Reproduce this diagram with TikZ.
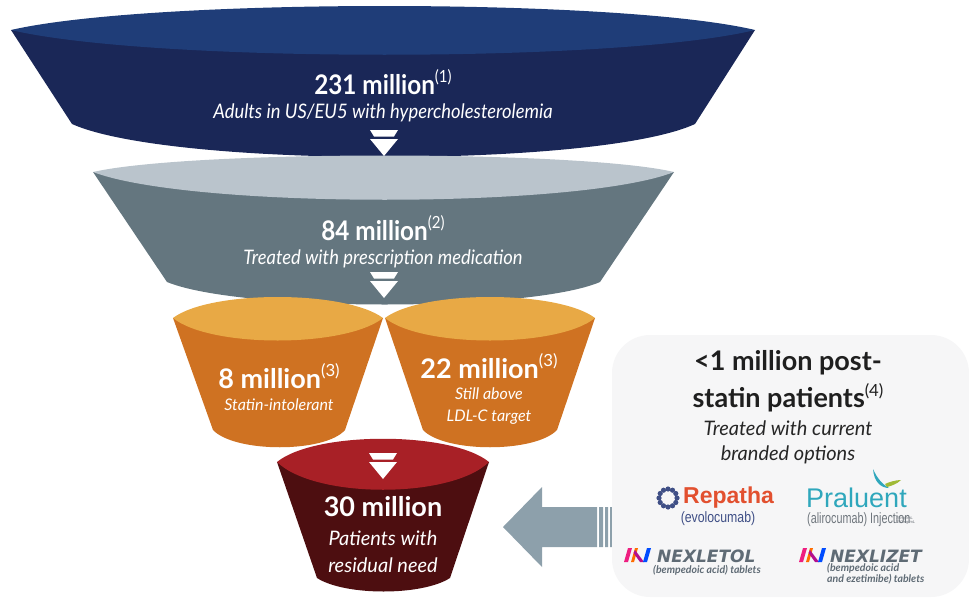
\documentclass[tikz,border=0pt]{standalone}
\usepackage{fontspec}
\setmainfont{Lato}
\newfontfamily\logosans{Liberation Sans}
\newfontfamily\logowide{DejaVu Sans}
\definecolor{navyrim}{HTML}{1F3D78}
\definecolor{navybody}{HTML}{1A2757}
\definecolor{greyrim}{HTML}{BAC4CC}
\definecolor{greybody}{HTML}{64767F}
\definecolor{orangerim}{HTML}{E8A945}
\definecolor{orangebody}{HTML}{CF7222}
\definecolor{redrim}{HTML}{A82026}
\definecolor{redbody}{HTML}{4D0E10}
\definecolor{arrowgrey}{HTML}{8DA0AB}
\definecolor{boxfill}{HTML}{F6F6F7}
\definecolor{repred}{HTML}{E2502F}
\definecolor{repblue}{HTML}{3F4F86}
\definecolor{praluentteal}{HTML}{2FA7BC}
\definecolor{logogrey}{HTML}{6F767D}
\definecolor{nexgrey}{HTML}{5F6B75}
\newcommand{\supref}[1]{\raisebox{.42em}{\fontsize{.62em}{.62em}\selectfont\normalfont #1}}
\newcommand{\fsz}[1]{\fontsize{#1}{#1}\selectfont}
\tikzset{
  x=1pt,y=-1pt,
  headtxt/.style={text=white,font=\fsz{27}\bfseries,inner sep=0pt,transform shape},
  subtxt/.style={text=white,font=\fsz{20}\itshape,inner sep=0pt,align=center,transform shape},
  downarrow/.style={fill=white},
}
\newcommand{\dblarrow}[2]{%
  \fill[downarrow] (#1-14,#2) -- (#1+14,#2) -- (#1+10,#2+6.5) -- (#1-10,#2+6.5) -- cycle;
  \fill[downarrow] (#1-14,#2+9) -- (#1+14,#2+9) -- (#1,#2+26) -- cycle;
}
\newcommand{\nexicon}[2]{%
  \fill[magenta!80!orange] (#1,#2+15) -- (#1+4,#2+1) -- (#1+8,#2+1) -- (#1+4,#2+15) -- cycle;
  \fill[orange!85!red] (#1+7,#2+15) -- (#1+11,#2+1) -- (#1+14,#2+1) -- (#1+10,#2+15) -- cycle;
  \fill[magenta!70!blue] (#1+11,#2+3) -- (#1+20,#2+15) -- (#1+16,#2+15) -- (#1+9.5,#2+6) -- cycle;
  \fill[blue!70!cyan] (#1+19,#2+15) -- (#1+23,#2+1) -- (#1+27,#2+1) -- (#1+23,#2+15) -- cycle;
}
\begin{document}
\begin{tikzpicture}
\useasboundingbox (0,0) rectangle (969,597);
% funnel 1
\fill[navybody] (11,30) -- (72,124) .. controls (170,168) and (600,168) .. (695,124) -- (755,30) -- cycle;
\fill[navyrim] (11,30) .. controls (150,-2) and (620,-2) .. (755,30) .. controls (620,63) and (150,63) .. cycle;
% funnel 2
\fill[greybody] (93,172) -- (167,282) .. controls (240,312) and (530,312) .. (600,282) -- (674,172) -- cycle;
\fill[greyrim] (93,172) .. controls (190,150) and (580,150) .. (674,172) .. controls (580,209) and (190,209) .. cycle;
% orange
\fill[orangebody] (173,318) -- (213,430) .. controls (235,453) and (325,453) .. (345,430) -- (383,318) -- cycle;
\fill[orangerim] (173,318) .. controls (210,290) and (345,290) .. (383,318) .. controls (345,348) and (210,348) .. cycle;
\fill[orangebody] (385,318) -- (423,430) .. controls (445,453) and (535,453) .. (557,430) -- (595,318) -- cycle;
\fill[orangerim] (385,318) .. controls (422,290) and (558,290) .. (595,318) .. controls (558,348) and (422,348) .. cycle;
% red
\fill[redbody] (277,462) -- (317,578) .. controls (345,596) and (422,596) .. (450,578) -- (489,462) -- cycle;
\fill[redrim] (277,462) .. controls (315,431) and (451,431) .. (489,462) .. controls (451,499) and (315,499) .. cycle;
% small arrows
\dblarrow{384}{130}
\dblarrow{384}{272}
\dblarrow{383}{453}
% side arrow
\fill[arrowgrey] (503,527) -- (542,487) -- (542,507) -- (597,507) -- (597,547) -- (542,547) -- (542,567) -- cycle;
\fill[arrowgrey] (599,507) rectangle (603,547) (605,507) rectangle (608,547) (610,507) rectangle (612,547);
% panel
\fill[boxfill,rounded corners=38pt] (612,335) rectangle (969,597);
% funnel labels
\node[headtxt,xscale=.9] (t1) at (383,82) {231 million\supref{(1)}};
\node[subtxt,xscale=.92] (s1) at (383,113) {Adults in US/EU5 with hypercholesterolemia};
\node[headtxt,xscale=.9] (t2) at (383,228) {84 million\supref{(2)}};
\node[subtxt,xscale=.92] (s2) at (383,259) {Treated with prescription medication};
\node[headtxt] (t3) at (279,376) {8 million\supref{(3)}};
\node[subtxt,font=\fsz{16}\itshape] (s3) at (279,405) {Statin-intolerant};
\node[headtxt] (t4) at (489,366) {22 million\supref{(3)}};
\node[subtxt,font=\fsz{16}\itshape] (s4) at (489,394) {Still above};
\node[subtxt,font=\fsz{16}\itshape] (s5) at (489,417) {LDL-C target};
\node[headtxt] (t5) at (383,507) {30 million};
\node[subtxt] (s6) at (383,538) {Patients with};
\node[subtxt] (s7) at (383,565) {residual need};
% panel text
\node[inner sep=0pt,font=\fsz{27}\bfseries,text=black!88] (p1) at (788,363) {<1 million post-};
\node[inner sep=0pt,font=\fsz{27}\bfseries,text=black!88] (p2) at (788,398) {statin patients\supref{(4)}};
\node[inner sep=0pt,font=\fsz{20}\itshape,text=black!85] (p3) at (788,428) {Treated with current};
\node[inner sep=0pt,font=\fsz{20}\itshape,text=black!85] (p4) at (788,455) {branded options};
% Repatha logo
\foreach \a in {0,30,...,330}{\fill[repblue] ({668+9*cos(\a)},{498+9*sin(\a)}) circle (2.6pt);}
\fill[boxfill] (668,498) circle (6pt);
\node[inner sep=0pt,anchor=west,text=repred,font=\logosans\fsz{23}\bfseries] (rep) at (683,498) {Repatha};
\node[inner sep=0pt,text=repblue,font=\logosans\fsz{15},xscale=.82,transform shape] (evo) at (718,519) {(evolocumab)};
% Praluent logo
\fill[praluentteal] (873,469) .. controls (877,478) and (882,484) .. (889,488) .. controls (881,488) and (874,482) .. cycle;
\fill[yellow!70!green!80!black] (885,484) .. controls (889,482) and (896,480) .. (901,480) .. controls (897,484) and (891,486) .. (887,487) -- cycle;
\node[inner sep=0pt,anchor=west,text=praluentteal,font=\logosans\fsz{27}] (pra) at (806,498) {Praluent};
\node[inner sep=0pt,anchor=west,text=logogrey,font=\logosans\fsz{15},xscale=.72,transform shape] (ali) at (807,520) {(alirocumab) Injection};
\node[inner sep=0pt,anchor=west,text=logogrey,font=\logosans\fsz{4},align=left] (dose) at (896,520) {75mg/mL\\150mg/mL};
% Nexletol logo
\nexicon{624}{547}
\node[inner sep=0pt,anchor=west,text=nexgrey,font=\logowide\fsz{17}\bfseries\itshape] (nxt) at (657,556) {NEXLETOL};
\node[inner sep=0pt,anchor=west,text=nexgrey,font=\fsz{10.5}\bfseries\itshape] (nxts) at (653,570) {(bempedoic acid) tablets};
% Nexlizet logo
\nexicon{799}{547}
\node[inner sep=0pt,anchor=west,text=nexgrey,font=\logowide\fsz{17}\bfseries\itshape] (nzt) at (830,556) {NEXLIZET};
\node[inner sep=0pt,anchor=west,text=nexgrey,font=\fsz{10.5}\bfseries\itshape] (nzs1) at (827,568) {(bempedoic acid};
\node[inner sep=0pt,anchor=west,text=nexgrey,font=\fsz{10.5}\bfseries\itshape] (nzs2) at (827,579) {and ezetimibe) tablets};
\end{tikzpicture}
\end{document}
